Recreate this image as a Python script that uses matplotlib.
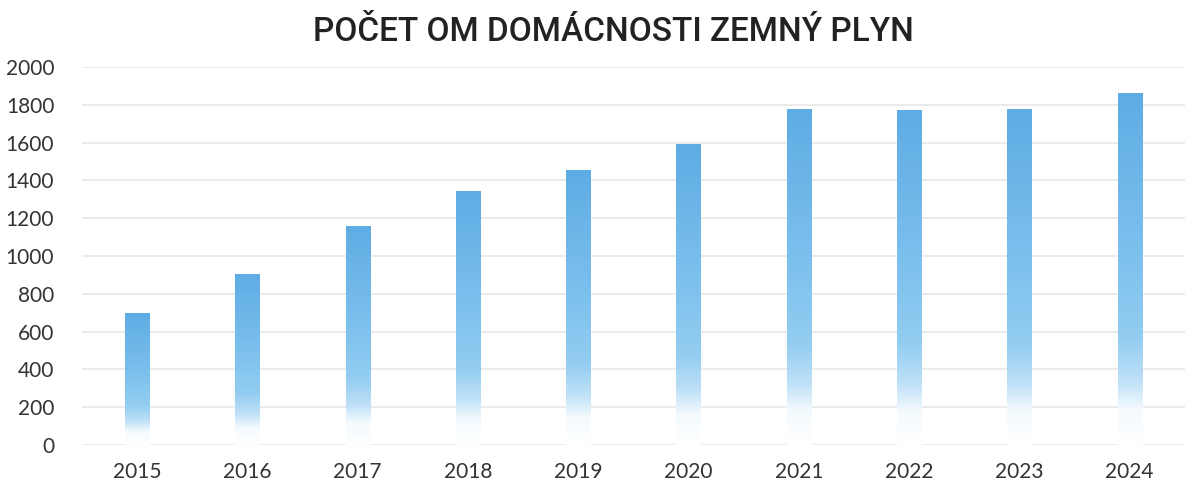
import matplotlib
matplotlib.use("Agg")
import matplotlib.pyplot as plt
import numpy as np
from matplotlib.colors import LinearSegmentedColormap

years = ["2015", "2016", "2017", "2018", "2019", "2020", "2021", "2022", "2023", "2024"]
values = [698, 905, 1160, 1345, 1455, 1595, 1780, 1770, 1780, 1860]
title = "POČET OM DOMÁCNOSTI ZEMNÝ PLYN"
yticks = [0, 200, 400, 600, 800, 1000, 1200, 1400, 1600, 1800, 2000]

plt.rcParams['font.family'] = ['Lato', 'DejaVu Sans']

fig = plt.figure(figsize=(11.92, 4.83), dpi=100)
ax = fig.add_axes([0.0688, 0.0787, 0.9252, 0.7826])

x = np.arange(len(years))
width = 0.22
cmap = LinearSegmentedColormap.from_list(
    "barfade",
    [(0.0, "#ffffff"), (0.1, "#f4fafe"), (0.18, "#bfe1f7"), (0.3, "#93cdf1"),
     (0.55, "#7cc0ed"), (1.0, "#5eace4")])

bars = ax.bar(x, values, width=width, color="none", edgecolor="none", zorder=2)
grad = np.linspace(0, 1, 256).reshape(-1, 1)
for b, v in zip(bars, values):
    x0 = b.get_x()
    im = ax.imshow(grad, cmap=cmap, origin="lower", aspect="auto",
                   extent=[x0, x0 + b.get_width(), 0, v], zorder=2)
    im.set_clip_path(b)

ax.set_xlim(-0.5, len(years) - 0.5)
ax.set_ylim(0, 2000)
ax.set_xticks(x)
ax.set_xticklabels(years)
ax.set_yticks(yticks)
ax.set_yticklabels([str(t) for t in yticks])
ax.tick_params(axis="both", length=0, labelsize=15, colors="#333333")
ax.tick_params(axis="x", pad=12)
ax.tick_params(axis="y", pad=20)
ax.yaxis.grid(True, color="#e8e8e8", linewidth=1.2, zorder=0)
ax.set_axisbelow(True)
for s in ax.spines.values():
    s.set_visible(False)

fig.text(0.515, 0.933, title, ha="center", va="center", fontsize=24,
         color="#222222", family=["Roboto", "DejaVu Sans"], fontweight="medium")

fig.savefig("out.png", dpi=100)
